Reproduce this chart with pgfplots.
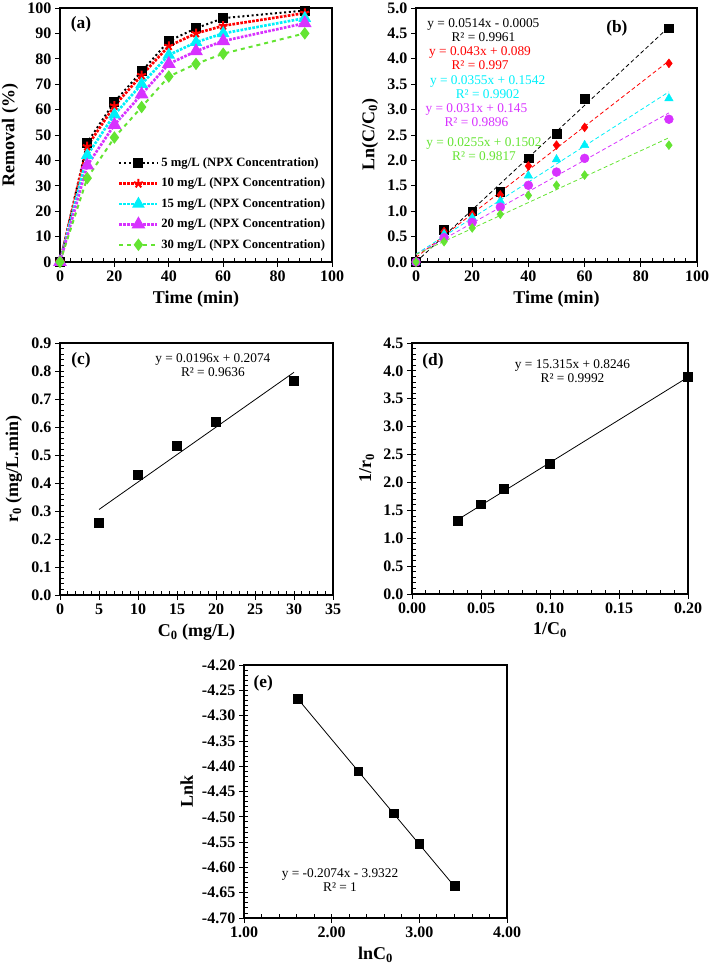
\documentclass[border=0pt]{standalone}
\usepackage{fontspec}
\setmainfont{Liberation Serif}
\usepackage{pgfplots}
\pgfplotsset{compat=1.18}

\definecolor{cy}{RGB}{0,240,250}
\definecolor{mg}{RGB}{215,50,255}
\definecolor{gr}{RGB}{100,228,50}

\tikzset{
 eq/.style={font=\fontsize{10}{10.5}\selectfont, align=center, inner sep=0pt},
 plab/.style={font=\fontsize{13}{14}\selectfont\bfseries, inner sep=0pt},
}
\pgfplotsset{
 myax/.style={
  scale only axis,
  anchor=south west,
  axis line style={line width=0.8pt},
  xtick pos=bottom, ytick pos=left,
  tick align=inside,
  major tick length=-4pt,
  minor tick length=3pt,
  xticklabel shift=3pt, yticklabel shift=3pt,
  major tick style={black, line width=0.6pt},
  minor tick style={black, line width=0.6pt},
  ticklabel style={font=\fontsize{12}{14}\selectfont\bfseries},
  label style={font=\fontsize{13.5}{15}\selectfont\bfseries},
  /pgf/number format/assume math mode=true,
  scaled ticks=false,
  clip=false,
 },
}

\begin{document}
\begin{tikzpicture}
\path[use as bounding box] (0,0) rectangle (531.75pt,726.75pt);

% (a)
\begin{axis}[myax, at={(45pt,530.25pt)}, width=204pt, height=190.5pt,
  xmin=0, xmax=100, ymin=0, ymax=100,
  xtick={0,20,...,100}, ytick={0,10,...,100}, minor xtick={4,8,...,96},
  xlabel={Time (min)}, ylabel={Removal (\%)},
  legend style={draw=none, fill=none, at={(0.985,0.035)}, anchor=south east,
    font=\fontsize{9.5}{11}\selectfont\bfseries, row sep=3.2pt, inner sep=0pt},
  legend cell align=left,
  legend image code/.code={\draw[mark repeat=2,mark phase=2] plot coordinates {(0cm,0cm) (0.5cm,0cm) (1cm,0cm)};},
]
\addplot[black, line width=1.5pt, dotted, mark=square*, mark size=3pt, mark options={solid}]
 coordinates {(0,0) (10,47) (20,63) (30,75) (40,87) (50,92) (60,96) (90,99)};
\addlegendentry{5 mg/L (NPX Concentration)}
\addplot[red, line width=2pt, densely dotted, mark=star, mark size=3.5pt, mark options={solid, line width=1.5pt}]
 coordinates {(0,0) (10,45.5) (20,61.5) (30,73.5) (40,85) (50,90) (60,93) (90,98)};
\addlegendentry{10 mg/L (NPX Concentration)}
\addplot[cy, line width=2pt, densely dotted, mark=triangle*, mark size=3.5pt, mark options={solid}]
 coordinates {(0,0) (10,42) (20,58) (30,70) (40,81.5) (50,86.5) (60,90) (90,96)};
\addlegendentry{15 mg/L (NPX Concentration)}
\addplot[mg, line width=2pt, densely dotted, mark=triangle*, mark size=4pt, mark options={solid}]
 coordinates {(0,0) (10,38) (20,54) (30,66) (40,78) (50,83) (60,87) (90,94)};
\addlegendentry{20 mg/L (NPX Concentration)}
\addplot[gr, line width=1.5pt, dashed, mark=diamond*, mark size=3.5pt, mark options={solid}]
 coordinates {(0,0) (10,33) (20,49) (30,61) (40,73) (50,78) (60,82) (90,90)};
\addlegendentry{30 mg/L (NPX Concentration)}
\node[plab] at (axis cs:7.7,93.7) {(a)};
\end{axis}

% (b)
\begin{axis}[myax, at={(312pt,530.25pt)}, width=210.75pt, height=190.5pt,
  xmin=0, xmax=100, ymin=0, ymax=5,
  xtick={0,20,...,100}, ytick={0,0.5,...,5}, minor xtick={4,8,...,96},
  yticklabel style={/pgf/number format/.cd, fixed, fixed zerofill, precision=1},
  xlabel={Time (min)}, ylabel={Ln(C/C\textsubscript{0})},
]
\addplot[black, densely dashed, line width=0.6pt] coordinates {(0,-0.0005) (90,4.6255)};
\addplot[red, densely dashed, line width=0.6pt] coordinates {(0,0.089) (90,3.959)};
\addplot[cy, densely dashed, line width=0.6pt] coordinates {(0,0.1542) (90,3.3492)};
\addplot[mg, densely dashed, line width=0.6pt] coordinates {(0,0.145) (90,2.935)};
\addplot[gr, densely dashed, line width=0.6pt] coordinates {(0,0.1502) (90,2.4452)};
\addplot[only marks, black, mark=square*, mark size=3.3pt]
 coordinates {(0,0) (10,0.64) (20,1.0) (30,1.39) (40,2.04) (50,2.53) (60,3.22) (90,4.6)};
\addplot[only marks, red, mark=diamond*, mark size=3.3pt]
 coordinates {(0,0) (10,0.6) (20,0.93) (30,1.32) (40,1.89) (50,2.30) (60,2.65) (90,3.91)};
\addplot[only marks, cy, mark=triangle*, mark size=3.6pt]
 coordinates {(0,0) (10,0.55) (20,0.87) (30,1.2) (40,1.70) (50,2.02) (60,2.30) (90,3.22)};
\addplot[only marks, mg, mark=*, mark size=3.3pt]
 coordinates {(0,0) (10,0.48) (20,0.78) (30,1.08) (40,1.51) (50,1.77) (60,2.04) (90,2.81)};
\addplot[only marks, gr, mark=diamond*, mark size=3.3pt]
 coordinates {(0,0) (10,0.40) (20,0.67) (30,0.94) (40,1.31) (50,1.51) (60,1.71) (90,2.30)};
\node[eq, text=black] at (axis cs:24,4.555) {y = 0.0514x - 0.0005\\R² = 0.9961};
\node[eq, text=red] at (axis cs:22.8,4.01) {y = 0.043x + 0.089\\R² = 0.997};
\node[eq, text=cy] at (axis cs:25.5,3.44) {y = 0.0355x + 0.1542\\R² = 0.9902};
\node[eq, text=mg] at (axis cs:21.5,2.895) {y = 0.031x + 0.145\\R² = 0.9896};
\node[eq, text=gr] at (axis cs:24.2,2.215) {y = 0.0255x + 0.1502\\R² = 0.9817};
\node[plab] at (axis cs:71.5,4.6) {(b)};
\end{axis}

% (c)
\begin{axis}[myax, at={(45pt,280.5pt)}, width=204.75pt, height=189pt,
  xmin=0, xmax=35, ymin=0, ymax=0.9,
  xtick={0,5,...,35}, ytick={0,0.1,...,0.9},
  minor xtick={1,2,...,34}, minor ytick={0.02,0.04,...,0.89},
  yticklabel style={/pgf/number format/.cd, fixed, fixed zerofill, precision=1},
  xlabel={C\textsubscript{0} (mg/L)}, ylabel={r\textsubscript{0} (mg/L.min)},
]
\addplot[black, line width=0.6pt] coordinates {(5,0.3054) (30,0.7954)};
\addplot[only marks, black, mark=square*, mark size=3.3pt]
 coordinates {(5,0.258) (10,0.43) (15,0.533) (20,0.62) (30,0.765)};
\node[eq] at (axis cs:19.6,0.822) {y = 0.0196x + 0.2074\\R² = 0.9636};
\node[plab] at (axis cs:2.7,0.839) {(c)};
\end{axis}

% (d)
\begin{axis}[myax, at={(309pt,281.25pt)}, width=207pt, height=188.25pt,
  xmin=0, xmax=0.2, ymin=0, ymax=4.5,
  xtick={0,0.05,...,0.2}, ytick={0,0.5,...,4.5},
  minor xtick={0.01,0.02,...,0.195}, minor ytick={0.1,0.2,...,4.45},
  xticklabel style={/pgf/number format/.cd, fixed, fixed zerofill, precision=2},
  yticklabel style={/pgf/number format/.cd, fixed, fixed zerofill, precision=1},
  xlabel={1/C\textsubscript{0}}, ylabel={1/r\textsubscript{0}},
]
\addplot[black, line width=0.6pt] coordinates {(0.0333,1.335) (0.2,3.8876)};
\addplot[only marks, black, mark=square*, mark size=3.3pt]
 coordinates {(0.0333,1.31) (0.05,1.61) (0.0667,1.88) (0.1,2.33) (0.2,3.89)};
\node[eq] at (axis cs:0.1163,4.0) {y = 15.315x + 0.8246\\R² = 0.9992};
\node[plab] at (axis cs:0.0152,4.18) {(d)};
\end{axis}

% (e)
\begin{axis}[myax, at={(183pt,38.25pt)}, width=197.25pt, height=189.75pt,
  xmin=1, xmax=4, ymin=-4.7, ymax=-4.2,
  xtick={1,2,3,4}, ytick={-4.7,-4.65,...,-4.19},
  minor xtick={1.2,1.4,...,3.9}, minor ytick={-4.69,-4.68,...,-4.205},
  xticklabel style={/pgf/number format/.cd, fixed, fixed zerofill, precision=2},
  yticklabel style={/pgf/number format/.cd, fixed, fixed zerofill, precision=2},
  xlabel={lnC\textsubscript{0}}, ylabel={Lnk},
]
\addplot[black, line width=0.6pt] coordinates {(1.609,-4.2659) (3.401,-4.6376)};
\addplot[only marks, black, mark=square*, mark size=3.3pt]
 coordinates {(1.609,-4.266) (2.303,-4.41) (2.708,-4.493) (3.0,-4.553) (3.401,-4.637)};
\node[eq] at (axis cs:2.095,-4.626) {y = -0.2074x - 3.9322\\R² = 1};
\node[plab] at (axis cs:1.22,-4.236) {(e)};
\end{axis}
\end{tikzpicture}
\end{document}
